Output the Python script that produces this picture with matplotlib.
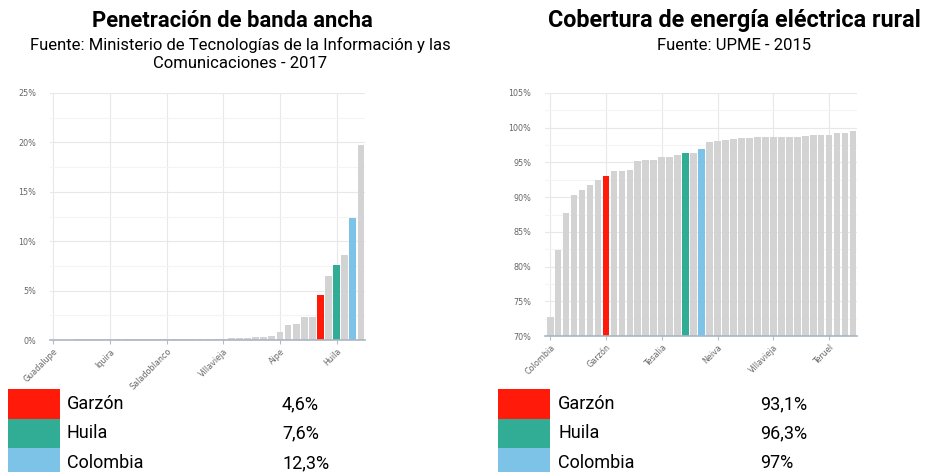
import matplotlib
matplotlib.use("Agg")
import matplotlib.pyplot as plt
from matplotlib.patches import Rectangle
from matplotlib.ticker import FuncFormatter, MultipleLocator

# banda ancha (%), municipios ordenados de menor a mayor
banda_vals = [0.05, 0.05, 0.05, 0.06, 0.06, 0.07, 0.07, 0.08, 0.08, 0.08,
              0.09, 0.09, 0.10, 0.10, 0.10, 0.11, 0.12, 0.12, 0.13, 0.13,
              0.14, 0.15, 0.16, 0.18, 0.25, 0.26, 0.32, 0.40, 0.80, 1.55,
              1.65, 2.30, 2.30, 4.60, 6.50, 7.60, 8.60, 12.30, 19.70]
banda_ticks = ["Guadalupe", "Iquira", "Saladoblanco", "Villavieja", "Aipe", "Huila"]
banda_hl = {33: "Garzón", 35: "Huila", 37: "Colombia"}

# cobertura eléctrica rural (%)
energia_vals = [72.8, 82.4, 87.7, 90.3, 91.0, 91.8, 92.5, 93.1, 93.7, 93.8,
                93.9, 95.2, 95.4, 95.4, 95.8, 95.8, 96.0, 96.3, 96.4, 97.0,
                98.0, 98.1, 98.3, 98.4, 98.5, 98.5, 98.6, 98.6, 98.7, 98.7,
                98.7, 98.7, 98.8, 98.9, 98.9, 99.0, 99.2, 99.3, 99.5]
energia_ticks = ["Colombia", "Garzón", "Tesalia", "Neiva", "Villavieja", "Teruel"]
energia_hl = {7: "Garzón", 17: "Huila", 19: "Colombia"}

leyenda = ["Garzón", "Huila", "Colombia"]
banda_txt = ["4,6%", "7,6%", "12,3%"]
energia_txt = ["93,1%", "96,3%", "97%"]

colores = {"Garzón": "#ff1a0a", "Huila": "#31ad96", "Colombia": "#7dc3e8"}
gris = "#d3d3d3"

plt.rcParams["font.family"] = ["Roboto", "DejaVu Sans"]

W, H = 930, 472
fig = plt.figure(figsize=(W / 100, H / 100), dpi=100)


def px(x, y, w, h):
    return [x / W, 1 - (y + h) / H, w / W, h / H]


def barras(ax, vals, hl, ticks, ylim, ystep, xlim):
    n = len(vals)
    cols = [colores[hl[i]] if i in hl else gris for i in range(n)]
    ax.bar(range(n), [v - ylim[0] for v in vals], bottom=ylim[0], width=0.84,
           color=cols, zorder=3)
    ax.set_xlim(*xlim)
    ax.set_ylim(*ylim)
    ax.set_xticks(range(0, n, 7)[:len(ticks)])
    ax.set_xticklabels(ticks, rotation=45, ha="right", rotation_mode="anchor",
                       fontsize=5.8, color="#666666", family="DejaVu Sans")
    ax.yaxis.set_major_locator(MultipleLocator(ystep))
    ax.yaxis.set_minor_locator(MultipleLocator(ystep / 2))
    ax.yaxis.set_major_formatter(FuncFormatter(lambda v, p: f"{v:.0f}%"))
    for lab in ax.get_yticklabels():
        lab.set_fontsize(5.8)
        lab.set_color("#666666")
        lab.set_family("DejaVu Sans")
    ax.tick_params(axis="y", length=0, pad=10)
    ax.tick_params(axis="y", which="minor", length=0)
    ax.tick_params(axis="x", length=3, color="#b0bcc8", pad=2)
    ax.grid(True, which="major", color="#e8e8e8", lw=0.8, zorder=0)
    ax.grid(True, which="minor", axis="y", color="#f4f4f4", lw=0.8, zorder=0)
    for s in ["top", "right", "left"]:
        ax.spines[s].set_visible(False)
    ax.spines["bottom"].set_color("#a9b6c4")
    ax.spines["bottom"].set_linewidth(1.2)
    ax.spines["bottom"].set_zorder(4)


ax1 = fig.add_axes(px(50, 93, 315, 247))
barras(ax1, banda_vals, banda_hl, banda_ticks, (0, 25), 5, (-0.4, 38.5))

ax2 = fig.add_axes(px(545, 93, 312, 243))
barras(ax2, energia_vals, energia_hl, energia_ticks, (70, 105), 5, (-0.65, 38.5))

# títulos
fig.text(232 / W, 1 - 21 / H, "Penetración de banda ancha", ha="center", va="center",
         fontsize=15.8, fontweight="bold")
fig.text(240 / W, 1 - 45 / H, "Fuente: Ministerio de Tecnologías de la Información y las",
         ha="center", va="center", fontsize=12)
fig.text(240 / W, 1 - 64 / H, "Comunicaciones - 2017", ha="center", va="center", fontsize=12)
fig.text(734 / W, 1 - 21 / H, "Cobertura de energía eléctrica rural", ha="center", va="center",
         fontsize=16.8, fontweight="bold")
fig.text(734 / W, 1 - 45 / H, "Fuente: UPME - 2015", ha="center", va="center", fontsize=12)

# tablas de leyenda
for x0, txt_x, val_x, textos in [(8, 67, 282, banda_txt), (498, 558, 760, energia_txt)]:
    for k, (nombre, val) in enumerate(zip(leyenda, textos)):
        y0 = 389 + k * 29.5
        fig.patches.append(Rectangle((x0 / W, 1 - (y0 + 29.5) / H), 52 / W, 29.5 / H,
                                     transform=fig.transFigure, color=colores[nombre],
                                     lw=0))
        fig.text(txt_x / W, 1 - (y0 + 15) / H, nombre, ha="left", va="center", fontsize=13)
        fig.text(val_x / W, 1 - (y0 + 15) / H, val, ha="left", va="center", fontsize=13)

fig.savefig("out.png", dpi=100)
